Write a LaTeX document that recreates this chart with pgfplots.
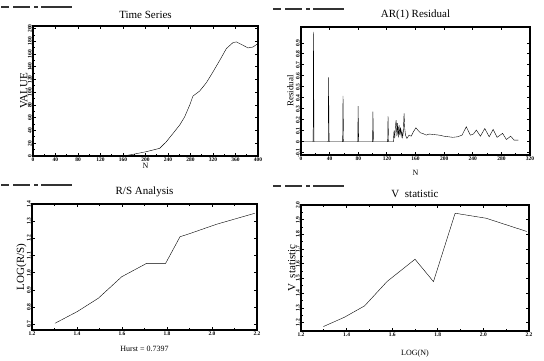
\documentclass[border=0pt]{standalone}
\usepackage{fontspec}
\setmainfont{Liberation Serif}
\usepackage{pgfplots}
\pgfplotsset{compat=1.18}
\begin{document}
\begin{tikzpicture}
\useasboundingbox (0pt,0pt) rectangle (544pt,361pt);
\pgfplotsset{
 panel/.style={scale only axis, anchor=south west,
   axis line style={line width=1.6pt},
   tick style={black, line width=0.8pt},
   major tick length=3pt, minor tick length=1.5pt, minor tick num=1,
   tick label style={font=\fontsize{5.5}{6}\selectfont\bfseries},
   yticklabel style={rotate=90, anchor=south, inner sep=1pt},
   xticklabel style={inner sep=1.5pt},
   /pgf/number format/assume math mode=true,
   title style={font=\fontsize{11}{12}\selectfont, inner sep=1pt},
   xlabel style={font=\fontsize{8}{9}\selectfont},
   ylabel style={font=\fontsize{11}{12}\selectfont},
   no markers,
   cycle list={{black, line width=1.2pt, line join=round}}}
}
% decorative header bars
\foreach \x/\y in {0/354, 272/352, 0/176, 272/175}{
  \draw[line width=1.4pt, black!80] (\x pt+1pt,\y pt) -- (\x pt+9pt,\y pt) (\x pt+13pt,\y pt) -- (\x pt+30pt,\y pt) (\x pt+34pt,\y pt) -- (\x pt+38pt,\y pt) (\x pt+41pt,\y pt) -- (\x pt+72pt,\y pt);
}
% Time Series
\begin{axis}[panel, at={(33pt,205pt)}, width=225pt, height=130pt,
  xmin=0, xmax=400, ymin=0, ymax=204,
  xtick={0,40,...,400}, ytick={0,20,...,200},
  title={Time Series}, xlabel={N}, ylabel={VALUE},
  ylabel style={yshift=-4pt}, xlabel style={yshift=3pt}]
\addplot coordinates {(0,0) (160,0) (177.8,2.6) (201.6,6.8) (225.2,12) (237,22.4) (249,35.5) (260.8,48.6) (269.7,61.6) (278.6,79.9) (284.4,94) (296.3,102) (308.2,115) (320,132) (331.9,150) (343.8,168.6) (355.6,178) (361.5,179) (373.3,173.8) (382.2,169.6) (391,171) (400,176.5)};
\end{axis}
% AR(1) Residual
\begin{axis}[panel, at={(301pt,206pt)}, width=229pt, height=128pt,
  xmin=0, xmax=320, ymin=-0.121, ymax=1.045,
  xtick={0,40,...,320}, ytick={-0.1,0,0.1,...,1.0},
  yticklabel style={/pgf/number format/.cd, fixed, precision=2},
  title={AR(1) Residual}, xlabel={N}, ylabel={Residual},
  ylabel style={yshift=-2pt, font=\fontsize{9}{10}\selectfont}, xlabel style={yshift=-5pt}]
\addplot coordinates {(0,0) (17,0) (17.4,1.0) (17.8,0.485) (18.2,0) (38,0) (38.5,0.585) (38.9,0.29) (39.3,0) (58.2,0) (58.7,0.418) (59.1,0.21) (59.5,0) (79.3,0) (79.8,0.324) (80.2,0.16) (80.6,0) (100,0) (100.5,0.273) (100.9,0.135) (101.3,0) (121.1,0) (121.6,0.233) (122,0.115) (122.4,0) (129,0) (130,0.1) (131,0.03) (132,0.15) (133,0.197) (134,0.05) (135,0.17) (136,0.04) (137,0.15) (138,0.06) (139,0.13) (140,0.05) (141,0.1) (142,0.04) (143,0.09) (144,0.258) (145,0.12) (146,0.06) (148,0.03) (151,0.06) (154,0.05) (157,0.09) (160.6,0.127) (164,0.1) (167,0.08) (170,0.076) (175,0.06) (179,0.07) (186,0.065) (193,0.06) (200,0.05) (206,0.045) (212,0.04) (219,0.045) (225,0.06) (231,0.136) (236.6,0.06) (241,0.07) (245,0.106) (250.7,0.05) (256.8,0.12) (263,0.045) (268.5,0.112) (274,0.04) (281.7,0.076) (287,0.02) (293,0.05) (297.7,0.015) (303.8,0.015)};
\end{axis}
% R/S Analysis
\begin{axis}[panel, at={(32pt,31pt)}, width=225pt, height=126pt,
  xmin=1.2, xmax=2.2, ymin=0.667, ymax=1.4,
  xtick={1.2,1.4,...,2.2}, ytick={0.7,0.8,...,1.4},
  xticklabel style={/pgf/number format/.cd, fixed, fixed zerofill, precision=1},
  yticklabel style={/pgf/number format/.cd, fixed, fixed zerofill, precision=1},
  title={R/S Analysis}, xlabel={Hurst = 0.7397}, ylabel={LOG(R/S)},
  ylabel style={yshift=-4pt}, xlabel style={yshift=-6pt}]
\addplot coordinates {(1.302,0.706) (1.401,0.774) (1.495,0.852) (1.599,0.977) (1.71,1.055) (1.794,1.055) (1.858,1.21) (1.888,1.222) (2.02,1.282) (2.19,1.346)};
\end{axis}
% V statistic
\begin{axis}[panel, at={(301pt,30pt)}, width=228pt, height=126pt,
  xmin=1.2, xmax=2.2, ymin=1.143, ymax=2.0,
  xtick={1.2,1.4,...,2.2}, ytick={1.2,1.3,...,2.0},
  xticklabel style={/pgf/number format/.cd, fixed, fixed zerofill, precision=1},
  yticklabel style={/pgf/number format/.cd, fixed, fixed zerofill, precision=1},
  title={V\ \ statistic}, xlabel={LOG(N)}, ylabel={V\ \ statistic},
  ylabel style={yshift=-4pt}, xlabel style={yshift=-8pt}]
\addplot coordinates {(1.298,1.173) (1.391,1.237) (1.479,1.314) (1.577,1.479) (1.70,1.631) (1.781,1.479) (1.876,1.944) (2.012,1.91) (2.19,1.82)};
\end{axis}
\end{tikzpicture}
\end{document}
